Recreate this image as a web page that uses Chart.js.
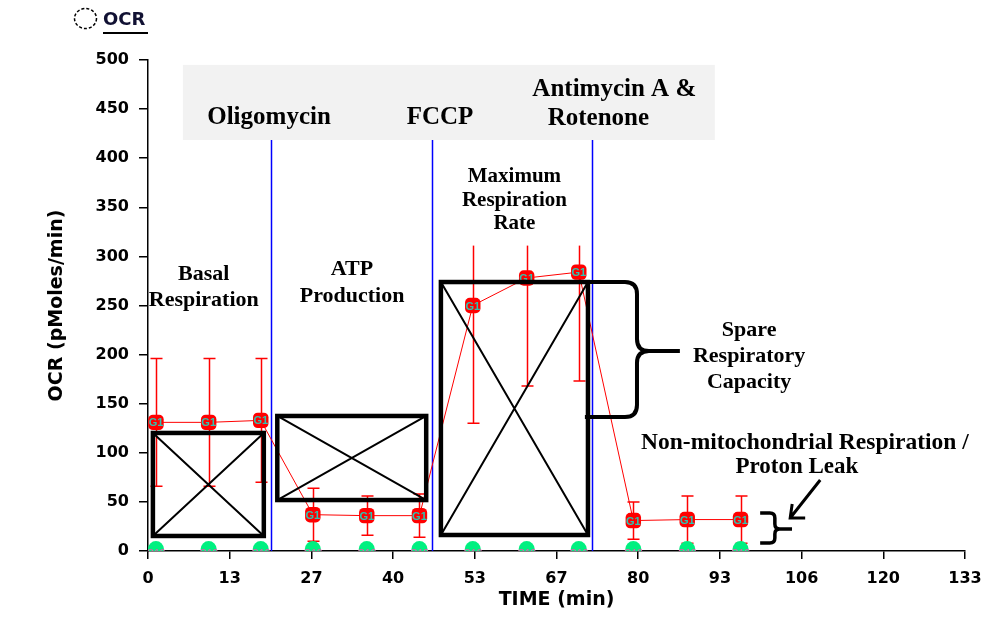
<!DOCTYPE html>
<html>
<head>
<meta charset="utf-8">
<title>OCR</title>
<script src="https://cdn.jsdelivr.net/npm/chart.js@4.4.1/dist/chart.umd.min.js"></script>
<style>
  body { margin: 0; background: #fff; }
  canvas { display: block; }
</style>
</head>
<body>
<canvas id="ocr-chart" width="994" height="619"></canvas>
<script>
// measurement times (min)
const timePoints = [1.3, 9.9, 18.4, 26.9, 35.7, 44.3, 53.0, 61.8, 70.3, 79.2, 88.0, 96.7];
// group G1: OCR mean and error
const ocrValues = [131, 131, 133, 37, 36, 36, 250, 278, 284, 31, 32, 32];
const ocrErrors = [65, 65, 63, 27, 20, 22, 120, 110, 111, 19, 24, 24];
// background wells (green)
const backgroundValues = [2, 2, 2, 2, 2, 2, 2, 2, 2, 2, 2, 2];
// injection times (min)
const injectionTimes = [20.1, 46.3, 72.4];
// axis ticks
const xTickLabels = ['0', '13', '27', '40', '53', '67', '80', '93', '106', '120', '133'];
const xMax = 133.33;
const yTickValues = [0, 50, 100, 150, 200, 250, 300, 350, 400, 450, 500];

// annotations, in data units (min / OCR)
const grayBand = { x0: 5.7, x1: 92.5, y0: 418.5, y1: 495 };
const crossBoxes = [
    { x0: 0.8, x1: 18.9, y0: 15.3, y1: 120.2 },
    { x0: 21.1, x1: 45.4, y0: 51.9, y1: 137.5 },
    { x0: 47.8, x1: 71.8, y0: 16.3, y1: 273.9 }
];
const textLabels = [
    { x: 19.75, y: [441], text: ['Oligomycin'], size: 25 },
    { x: 47.65, y: [441], text: ['FCCP'], size: 25 },
    { x: 76.1, y: [469.5], text: ['Antimycin A &'], size: 25 },
    { x: 73.5, y: [440], text: ['Rotenone'], size: 25 },
    { x: 59.8, y: [380.9, 356.4, 333.0], text: ['Maximum', 'Respiration', 'Rate'], size: 21 },
    { x: 9.1, y: [282, 255.6], text: ['Basal', 'Respiration'], size: 22 },
    { x: 33.3, y: [287, 259.7], text: ['ATP', 'Production'], size: 22 },
    { x: 98.1, y: [225, 198.6, 172], text: ['Spare', 'Respiratory', 'Capacity'], size: 22 },
    { x: 107.2, y: [110], text: ['Non-mitochondrial Respiration /'], size: 23.5 },
    { x: 105.9, y: [85.5], text: ['Proton Leak'], size: 23 }
];
// white area behind the "Maximum Respiration Rate" label that hides the whisker tops
const labelBacking = { x0: 50.2, x1: 71.6, y0: 311, y1: 410 };
const braces = [
    { x0: 71.3, xs: 79.8, xt: 86.8, yTop: 274, yBot: 136.5, yMid: 203.7, r: 12, w: 4 },
    { x0: 99.9, xs: 102.3, xt: 105.1, yTop: 38.7, yBot: 8.1, yMid: 22.4, r: 5, w: 3.5 }
];
const arrow = { x0: 109.7, y0: 72.3, x1: 104.8, y1: 33.6 };

const SERIF = '"Liberation Serif", "Times New Roman", serif';
const SANS = '"DejaVu Sans", Arial, sans-serif';

function drawBrace(ctx, xs, ys, b) {
    const X0 = xs(b.x0), XS = xs(b.xs), XT = xs(b.xt);
    const YT = ys(b.yTop), YB = ys(b.yBot), YM = ys(b.yMid);
    const r = b.r;
    ctx.lineWidth = b.w;
    ctx.strokeStyle = '#000';
    ctx.beginPath();
    ctx.moveTo(X0, YT);
    ctx.lineTo(XS - r, YT);
    ctx.quadraticCurveTo(XS, YT, XS, YT + r);
    ctx.lineTo(XS, YM - r);
    ctx.quadraticCurveTo(XS, YM, XS + r, YM);
    ctx.lineTo(XT, YM);
    ctx.moveTo(X0, YB);
    ctx.lineTo(XS - r, YB);
    ctx.quadraticCurveTo(XS, YB, XS, YB - r);
    ctx.lineTo(XS, YM + r);
    ctx.quadraticCurveTo(XS, YM, XS + r, YM);
    ctx.stroke();
}

const annotationPlugin = {
    id: 'seahorseAnnotations',
    beforeDatasetsDraw(chart) {
        const ctx = chart.ctx;
        const xs = v => chart.scales.x.getPixelForValue(v);
        const ys = v => chart.scales.y.getPixelForValue(v);
        ctx.save();
        // gray injection band
        ctx.fillStyle = '#f2f2f2';
        ctx.fillRect(xs(grayBand.x0), ys(grayBand.y1), xs(grayBand.x1) - xs(grayBand.x0), ys(grayBand.y0) - ys(grayBand.y1));
        // error bars
        ctx.strokeStyle = '#ff0000';
        ctx.lineWidth = 1.5;
        timePoints.forEach((t, i) => {
            const x = Math.round(xs(t)) + 0.5;
            const top = ys(ocrValues[i] + ocrErrors[i]);
            const bot = ys(ocrValues[i] - ocrErrors[i]);
            ctx.beginPath();
            ctx.moveTo(x, top); ctx.lineTo(x, bot);
            ctx.moveTo(x - 6, top); ctx.lineTo(x + 6, top);
            ctx.moveTo(x - 6, bot); ctx.lineTo(x + 6, bot);
            ctx.stroke();
        });
        // label backing hides whisker tops
        ctx.fillStyle = '#fff';
        ctx.fillRect(xs(labelBacking.x0), ys(labelBacking.y1), xs(labelBacking.x1) - xs(labelBacking.x0), ys(labelBacking.y0) - ys(labelBacking.y1));
        // injection lines
        ctx.strokeStyle = '#0000ff';
        ctx.lineWidth = 1.5;
        injectionTimes.forEach(t => {
            ctx.beginPath();
            ctx.moveTo(Math.round(xs(t)) + 0.5, ys(grayBand.y0));
            ctx.lineTo(Math.round(xs(t)) + 0.5, ys(0));
            ctx.stroke();
        });
        ctx.restore();
    },
    afterDatasetsDraw(chart) {
        const ctx = chart.ctx;
        const area = chart.chartArea;
        const xs = v => chart.scales.x.getPixelForValue(v);
        const ys = v => chart.scales.y.getPixelForValue(v);
        ctx.save();
        // marker labels
        ctx.textAlign = 'center';
        ctx.textBaseline = 'middle';
        ctx.font = 'bold 11px "Liberation Sans", Arial, sans-serif';
        ctx.fillStyle = '#2fc4b2';
        chart.getDatasetMeta(0).data.forEach(p => ctx.fillText('G1', p.x, p.y + 1));
        ctx.save();
        ctx.beginPath();
        ctx.rect(area.left, area.top, area.right - area.left, area.bottom - area.top);
        ctx.clip();
        ctx.fillStyle = '#e060b0';
        ctx.font = '10px "Liberation Sans", Arial, sans-serif';
        chart.getDatasetMeta(1).data.forEach(p => ctx.fillText('G12', p.x, p.y + 5));
        ctx.restore();

        // boxes with crosses
        ctx.strokeStyle = '#000';
        crossBoxes.forEach(b => {
            const L = xs(b.x0), R = xs(b.x1), T = ys(b.y1), B = ys(b.y0);
            ctx.lineWidth = 2;
            ctx.beginPath();
            ctx.moveTo(L, T); ctx.lineTo(R, B);
            ctx.moveTo(R, T); ctx.lineTo(L, B);
            ctx.stroke();
            ctx.lineWidth = 4.5;
            ctx.strokeRect(L, T, R - L, B - T);
        });

        braces.forEach(b => drawBrace(ctx, xs, ys, b));

        // arrow to the small brace
        const ax0 = xs(arrow.x0), ay0 = ys(arrow.y0), ax1 = xs(arrow.x1), ay1 = ys(arrow.y1);
        ctx.lineWidth = 3;
        ctx.beginPath();
        ctx.moveTo(ax0, ay0); ctx.lineTo(ax1, ay1);
        ctx.moveTo(ax1 + 2, ay1 - 14); ctx.lineTo(ax1, ay1); ctx.lineTo(ax1 + 15, ay1);
        ctx.stroke();

        // text annotations
        ctx.fillStyle = '#000';
        ctx.textAlign = 'center';
        ctx.textBaseline = 'middle';
        textLabels.forEach(l => {
            ctx.font = 'bold ' + l.size + 'px ' + SERIF;
            l.text.forEach((s, i) => ctx.fillText(s, xs(l.x), ys(l.y[i])));
        });

        // legend
        ctx.setLineDash([3, 2]);
        ctx.lineWidth = 1.5;
        ctx.beginPath();
        ctx.ellipse(85.5, 18.5, 11, 10, 0, 0, Math.PI * 2);
        ctx.stroke();
        ctx.setLineDash([]);
        ctx.textAlign = 'left';
        ctx.textBaseline = 'alphabetic';
        ctx.font = 'bold 18px ' + SANS;
        ctx.fillStyle = '#111133';
        ctx.fillText('OCR', 103, 25);
        ctx.fillStyle = '#000';
        ctx.fillRect(103, 32, 45, 2);
        ctx.restore();
    }
};

new Chart(document.getElementById('ocr-chart'), {
    type: 'line',
    data: {
        datasets: [{
            label: 'G1',
            data: timePoints.map((t, i) => ({ x: t, y: ocrValues[i] })),
            borderColor: '#ff0000',
            borderWidth: 1,
            pointStyle: 'rectRounded',
            pointRadius: 9,
            pointBackgroundColor: '#ff0000',
            pointBorderColor: '#ff0000',
            pointBorderWidth: 0
        }, {
            label: 'Background',
            data: timePoints.map((t, i) => ({ x: t, y: backgroundValues[i] })),
            showLine: false,
            pointStyle: 'circle',
            pointRadius: 8,
            pointBackgroundColor: '#00f080',
            pointBorderWidth: 0,
            clip: 0
        }]
    },
    options: {
        responsive: false,
        animation: false,
        layout: { padding: { top: 60, right: 29, left: 0, bottom: 0 } },
        plugins: { legend: { display: false }, tooltip: { enabled: false } },
        scales: {
            x: {
                type: 'linear',
                min: 0,
                max: xMax,
                afterBuildTicks: scale => {
                    scale.ticks = xTickLabels.map((l, i) => ({ value: i * xMax / (xTickLabels.length - 1) }));
                },
                afterFit: scale => { scale.height = 68; },
                ticks: {
                    callback: (v, i) => xTickLabels[i],
                    color: '#000',
                    font: { family: SANS, size: 16, weight: 'bold' },
                    maxRotation: 0,
                    padding: 10
                },
                grid: { drawOnChartArea: false, color: '#000', tickLength: 8, lineWidth: 1.5 },
                border: { color: '#000', width: 1.5 },
                title: {
                    display: true,
                    text: 'TIME (min)',
                    color: '#000',
                    font: { family: SANS, size: 19, weight: 'bold' },
                    padding: { top: 0, bottom: 7.5 }
                }
            },
            y: {
                min: 0,
                max: 500,
                afterBuildTicks: scale => {
                    scale.ticks = yTickValues.map(v => ({ value: v }));
                },
                afterFit: scale => { scale.width = 148; },
                ticks: {
                    color: '#000',
                    font: { family: SANS, size: 16, weight: 'bold' },
                    padding: 10
                },
                grid: { drawOnChartArea: false, color: '#000', tickLength: 9, lineWidth: 1.5 },
                border: { color: '#000', width: 1.5 },
                title: {
                    display: true,
                    text: 'OCR (pMoles/min)',
                    color: '#000',
                    font: { family: SANS, size: 19, weight: 'bold' },
                    padding: { top: 45.5, bottom: 0 }
                }
            }
        }
    },
    plugins: [annotationPlugin]
});
</script>
</body>
</html>
